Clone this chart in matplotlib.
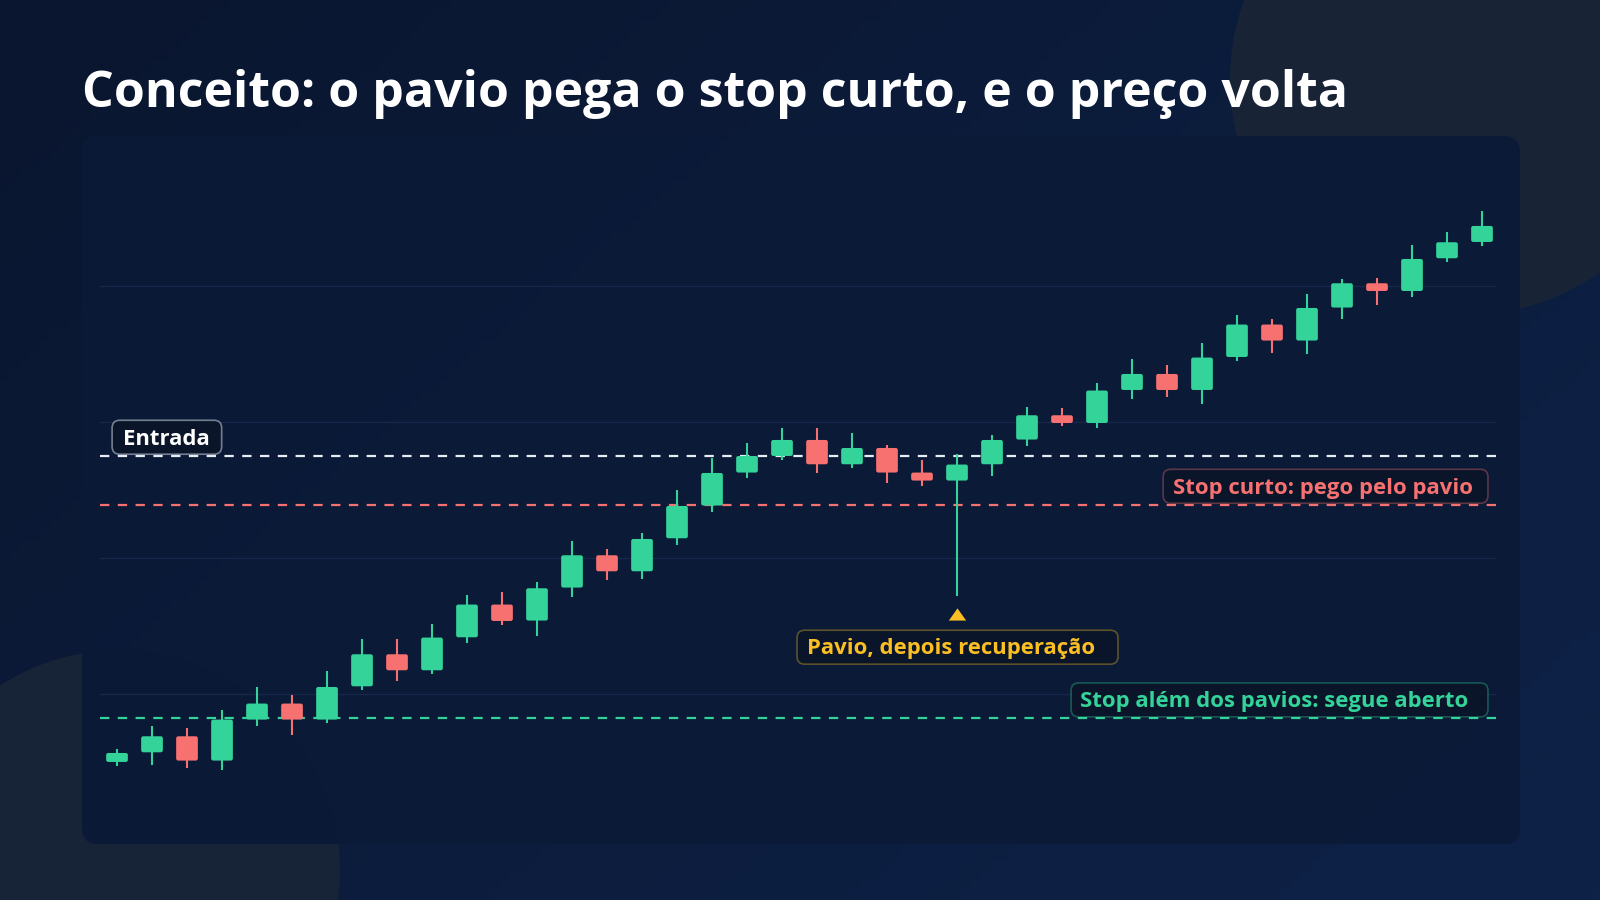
#!/usr/bin/env python3

"""wick hits the tight stop, price recovers"""

import numpy as np
import matplotlib.pyplot as plt
from matplotlib.colors import to_rgba
from matplotlib.patches import FancyBboxPatch, Circle

TITLE = "Conceito: o pavio pega o stop curto, e o preço volta"

opens = [84.96, 85.67, 86.85, 85.06, 88.08, 89.26, 88.08, 90.53, 92.89, 91.71,
         94.14, 96.55, 95.37, 97.80, 100.18, 99.00, 101.43, 103.84, 106.27, 107.49,
         108.67, 106.88, 108.08, 106.27, 105.68, 106.88, 108.70, 110.49, 109.92, 112.35,
         113.53, 112.35, 114.78, 117.17, 115.99, 118.42, 120.21, 119.64, 122.05, 123.25]
closes = [85.62, 86.85, 85.06, 88.08, 89.26, 88.08, 90.48, 92.89, 91.71, 94.12,
          96.55, 95.34, 97.75, 100.18, 99.00, 101.38, 103.81, 106.24, 107.49, 108.67,
          106.88, 108.08, 106.27, 105.68, 106.86, 108.67, 110.49, 109.92, 112.31, 113.53,
          112.35, 114.74, 117.17, 115.99, 118.39, 120.21, 119.64, 122.00, 123.23, 124.43]
highs = [85.89, 87.59, 87.44, 88.77, 90.46, 89.87, 91.64, 93.99, 93.99, 95.12,
         97.23, 97.51, 98.21, 101.26, 100.62, 101.85, 105.02, 107.37, 108.45, 109.53,
         109.53, 109.16, 108.28, 107.23, 107.60, 109.07, 111.12, 111.06, 112.90, 114.66,
         114.17, 115.81, 117.90, 117.58, 119.40, 120.53, 120.56, 123.06, 124.02, 125.53]
lows = [84.66, 84.72, 84.52, 84.40, 87.61, 86.92, 87.83, 90.24, 90.92, 91.47,
        93.72, 95.08, 94.27, 97.11, 98.34, 98.46, 100.92, 103.35, 105.87, 107.20,
        106.24, 106.64, 105.50, 105.28, 97.16, 106.00, 108.21, 109.70, 109.55, 111.72,
        111.87, 111.35, 114.49, 115.11, 114.98, 117.58, 118.61, 119.18, 121.76, 122.96]

grid_levels = [90, 100, 110, 120]
entry = 107.50
stop_short = 103.89
stop_wide = 88.16
wick_bar = 24  # the candle whose wick takes the tight stop

label_entry = "Entrada"
label_short = "Stop curto: pego pelo pavio"
label_wide = "Stop além dos pavios: segue aberto"
label_wick = "Pavio, depois recuperação"

GREEN = "#34d399"
RED = "#f87171"
AMBER = "#fbbf24"
WHITE = "#e8edf5"
FONT = ["Open Sans", "DejaVu Sans"]

W, H = 1600, 900
fig = plt.figure(figsize=(16, 9), dpi=100)

# background, in pixel coordinates
bg = fig.add_axes([0, 0, 1, 1])
bg.set_xlim(0, W)
bg.set_ylim(H, 0)
bg.axis("off")
gx, gy = np.meshgrid(np.linspace(0, 1, 160), np.linspace(0, 1, 90))
t = (gx * 0.6 + gy * 0.4)[..., None]
c0 = np.array([0x0a, 0x16, 0x2f]) / 255
c1 = np.array([0x0e, 0x22, 0x48]) / 255
bg.imshow(c0 + (c1 - c0) * t, extent=(0, W, H, 0), aspect="auto", zorder=0)
bg.add_patch(Circle((1465, 80), 235, color="#182436", zorder=1, lw=0))
bg.add_patch(Circle((120, 870), 220, color="#172336", zorder=1, lw=0))
bg.add_patch(FancyBboxPatch((82, 136), 1438, 708,
                            boxstyle="round,pad=0,rounding_size=16",
                            fc="#0a1a37", ec="none", alpha=0.93, zorder=2))
bg.text(82, 107, TITLE, fontsize=36, weight="bold", color="white",
        family=FONT, va="baseline", ha="left", zorder=3)

# price axes
ax = fig.add_axes([100 / W, (H - 829.3) / H, 1396 / W, 679 / H])
ax.set_facecolor("none")
ax.set_xlim(-0.486, 39.4)
ax.set_ylim(80, 130)
ax.axis("off")
aspect = 35 / 13.58  # px per x unit / px per y unit

for g in grid_levels:
    ax.axhline(g, color="#16284a", lw=1.0, zorder=1)

for level, col in [(entry, WHITE), (stop_short, RED), (stop_wide, GREEN)]:
    ax.axhline(level, color=col, lw=1.6, ls=(0, (4.2, 3.8)), zorder=2)

for i, (o, h, l, c) in enumerate(zip(opens, highs, lows, closes)):
    col = GREEN if c >= o else RED
    ax.vlines(i, l, h, color=col, lw=1.5, zorder=3)
    ax.add_patch(FancyBboxPatch((i - 0.31, min(o, c)), 0.62, abs(c - o),
                                boxstyle="round,pad=0,rounding_size=0.06",
                                mutation_aspect=aspect, fc=col, ec="none",
                                zorder=4))


def tag(text, x0, x1, y0, tx, ha, col, edge, ealpha):
    ax.add_patch(FancyBboxPatch((x0, y0), x1 - x0, 2.5,
                                boxstyle="round,pad=0,rounding_size=0.22",
                                mutation_aspect=aspect,
                                fc=to_rgba("#0a1529", 0.95),
                                ec=to_rgba(edge, ealpha), lw=1.2, zorder=6))
    ax.text(tx, y0 + 1.12, text, color=col, fontsize=15.9, weight="bold",
            family=FONT, ha=ha, va="center", zorder=7)


tag(label_entry, -0.14, 2.99, entry + 0.12, 0.16, "left", "white", "#cbd5e1", 0.55)
tag(label_short, 29.89, 39.17, stop_short + 0.12, 38.74, "right", RED, RED, 0.35)
tag(label_wide, 27.26, 39.17, stop_wide + 0.12, 38.6, "right", GREEN, GREEN, 0.35)

tri = [(0, 0.7), (-1, -0.7), (1, -0.7)]
ax.plot(wick_bar, lows[wick_bar] - 1.33, marker=tri, ms=12.5, color=AMBER,
        mec="none", zorder=6)
tag(label_wick, wick_bar - 4.57, wick_bar + 4.6, lows[wick_bar] - 5.0,
    wick_bar - 4.29, "left", AMBER, AMBER, 0.35)

fig.savefig("out.png", dpi=100)
